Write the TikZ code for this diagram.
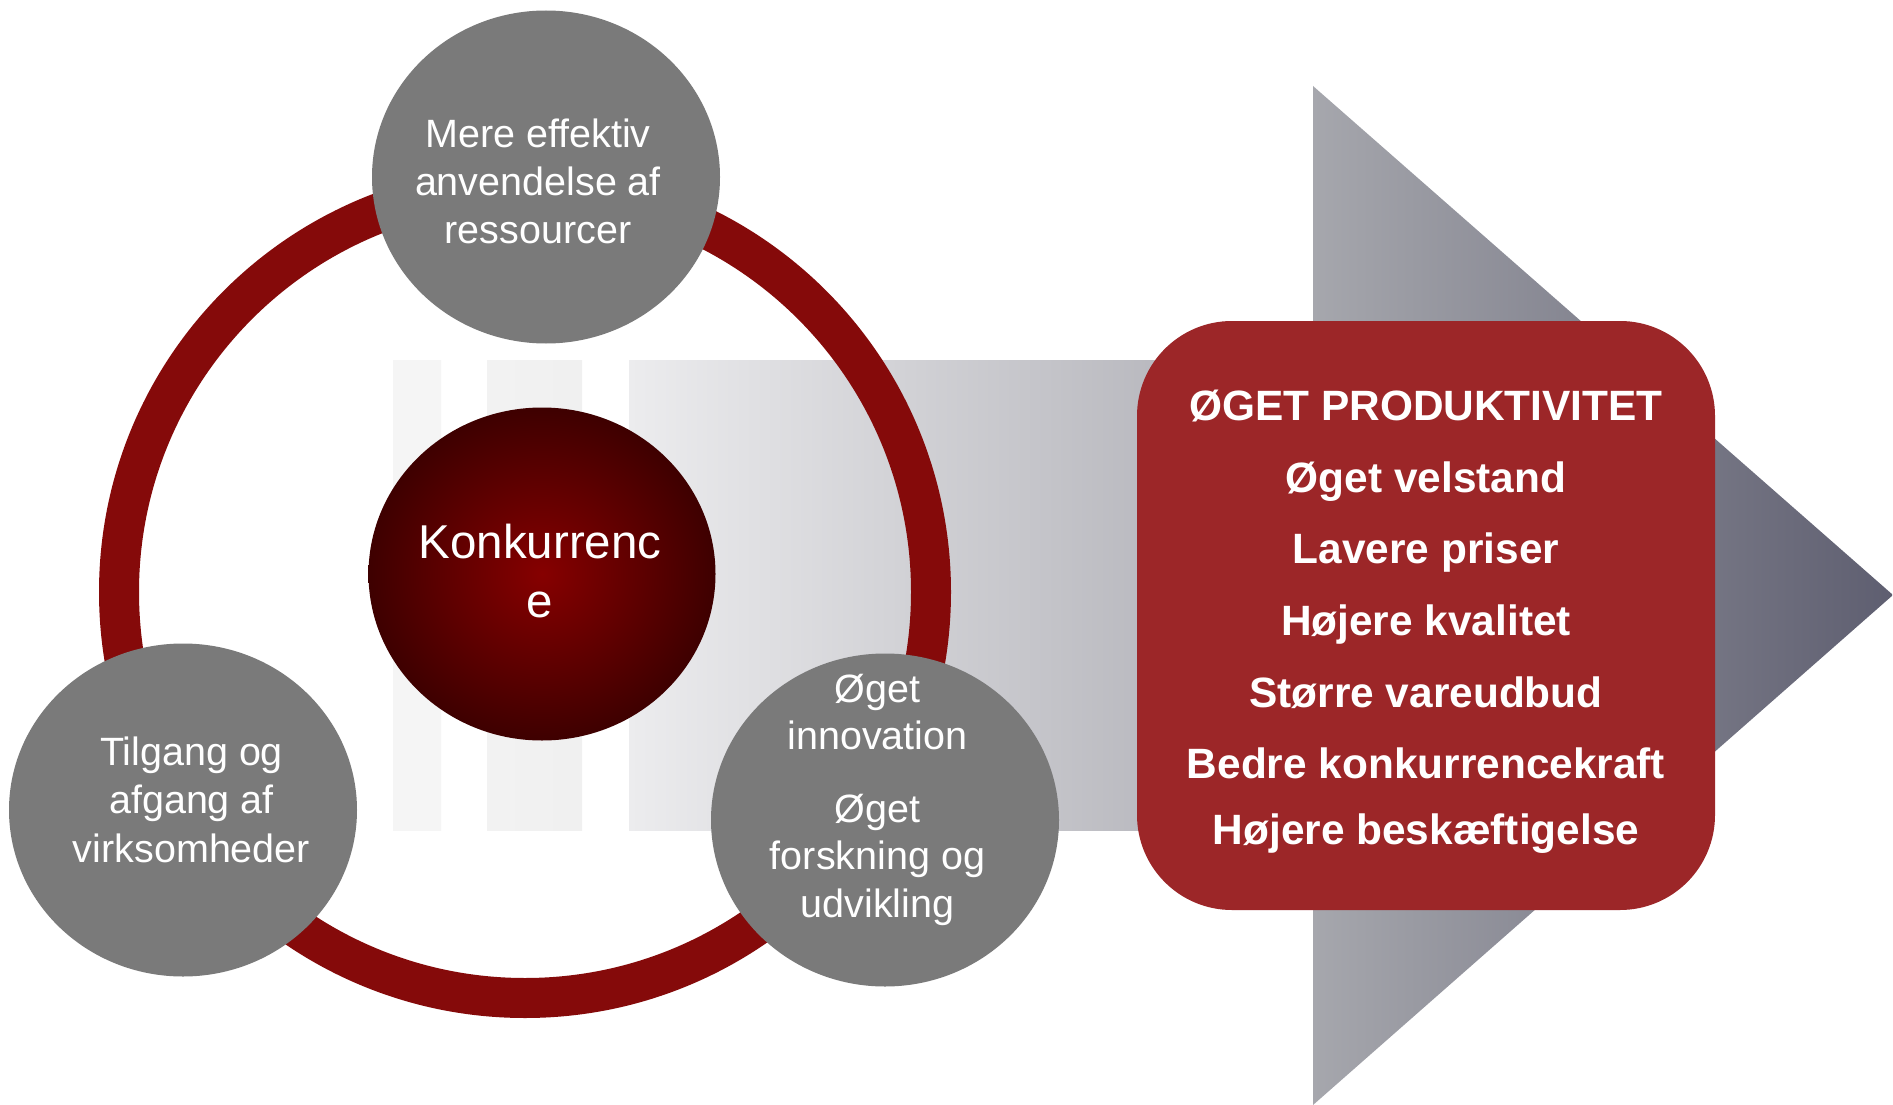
\documentclass[tikz,border=0pt]{standalone}
\usepackage{fontspec}
\setmainfont{Liberation Sans}
\usetikzlibrary{shapes.geometric}
\definecolor{ringred}{HTML}{850A0A}
\definecolor{bubblegray}{HTML}{7A7A7A}
\definecolor{boxred}{HTML}{9C2628}
\definecolor{coreinner}{HTML}{860000}
\definecolor{coreouter}{HTML}{3E0000}
\begin{document}
\begin{tikzpicture}[x=1pt,y=-1pt,
  bubble/.style={ellipse, fill=bubblegray, minimum width=348pt, minimum height=333pt, inner sep=0pt},
  ctext/.style={text=white, font=\fontsize{39.5pt}{47pt}\selectfont, anchor=base, inner sep=0pt},
  ktext/.style={text=white, font=\fontsize{47.5pt}{56pt}\selectfont, anchor=base, inner sep=0pt},
  btext/.style={text=white, font=\bfseries\fontsize{42.4pt}{50pt}\selectfont, anchor=base, inner sep=0pt}]
\fill[white] (0,0) rectangle (1893,1105);
\useasboundingbox (0,0) rectangle (1893,1105);
% striped arrow body
\shade[left color=black!4, right color=black!4] (393,360) rectangle (441,830);
\shade[left color=black!5, right color=black!6] (487,360) rectangle (582,830);
\shade[left color={rgb,255:red,236;green,236;blue,238}, right color={rgb,255:red,184;green,184;blue,190}] (629,360) rectangle (1170,830);
% arrow head
\shade[left color={rgb,255:red,166;green,167;blue,173}, right color={rgb,255:red,94;green,94;blue,112}] (1313,86) -- (1893,595) -- (1313,1105) -- cycle;
% ring
\node[circle, draw=ringred, line width=40pt, minimum size=812pt, inner sep=0pt] (ring) at (525,592) {};
% bubbles
\node[bubble] (top) at (546,177) {};
\node[bubble] (left) at (183,810) {};
\node[bubble] (right) at (885,820) {};
\node[ellipse, inner color=coreinner, outer color=coreouter, minimum width=347pt, minimum height=333pt, inner sep=0pt] (core) at (542,574) {};
% result box
\node[rectangle, rounded corners=95pt, fill=boxred, minimum width=578pt, minimum height=589pt, inner sep=0pt] (box) at (1426,615.5) {};
% texts
\foreach \t/\yy [count=\i] in {Mere effektiv/147, anvendelse af/195, ressourcer/243}
  \node[ctext] (topt\i) at (538,\yy) {\t};
\foreach \t/\yy [count=\i] in {Tilgang og/765, afgang af/813, virksomheder/862}
  \node[ctext] (leftt\i) at (191.5,\yy) {\t};
\foreach \t/\yy [count=\i] in {Øget/702, innovation/749, Øget/822, forskning og/869, udvikling/917}
  \node[ctext] (rightt\i) at (877.5,\yy) {\t};
\node[ktext] (coret1) at (540,558) {Konkurrenc};
\node[ktext] (coret2) at (540,617) {e};
\foreach \t/\yy [count=\i] in {ØGET PRODUKTIVITET/420, Øget velstand/492, Lavere priser/563, Højere kvalitet/635, Større vareudbud/707, Bedre konkurrencekraft/778, Højere beskæftigelse/844}
  \node[btext] (boxt\i) at (1426,\yy) {\t};
\end{tikzpicture}
\end{document}
